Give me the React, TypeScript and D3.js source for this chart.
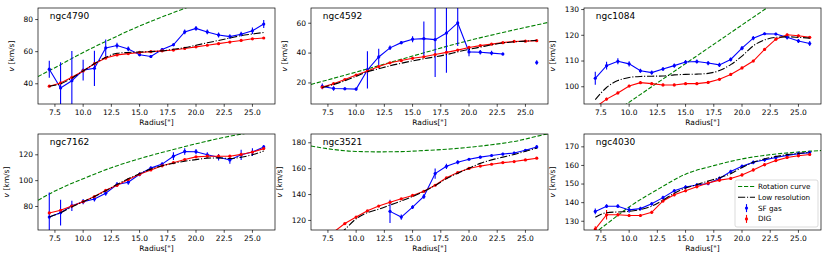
import React from 'react';
import * as d3 from 'd3';

const radius = [7, 8, 9, 10, 11, 12, 13, 14, 15, 16, 17, 18, 19, 20, 21, 22, 23, 24, 25, 26];
const xTicks = [7.5, 10, 12.5, 15, 17.5, 20, 22.5, 25];
const galaxyNames = ['ngc4790', 'ngc4592', 'ngc1084', 'ngc7162', 'ngc3521', 'ngc4030'];

// ngc4790
const sf4790 = [49.1, 37.4, 41.9, 48.5, 49.6, 62.3, 63.8, 61.7, 58.1, 57, 61.3, 64.3, 72.3, 74.5, 72.3, 70.4, 69.4, 70.9, 73, 77.2];
const sfErr4790 = [5.3, 16, 18.5, 6.5, 11, 5.3, 1.8, 1.5, 1, 1, 1, 1, 1.5, 1.5, 1.5, 1.5, 1.5, 1.5, 2, 2.5];
const dig4790 = [38.5, 40.5, 44, 48, 52.5, 56, 58, 58.8, 59.5, 60, 60.5, 61, 62, 63, 64, 65, 66, 67, 68, 68.5];
const low4790 = [38.5, 40, 43.5, 48, 52.5, 56.5, 59, 59.5, 59.8, 60, 60.5, 61.5, 62.5, 64, 65.5, 67, 68.5, 70, 71, 72];
const rotX4790 = [6, 7.5, 10, 12.5, 15, 17.5, 20, 22.5, 25, 27];
const rotV4790 = [44.5, 50, 59.5, 68, 76, 83, 89.5, 95, 100, 104];
const yTicks4790 = [40, 60, 80];

// ngc4592
const sf4592 = [17.7, 16.3, 16.1, 15.9, 28.7, 37.4, 43.5, 47, 49.3, 49.7, 49, 53.4, 60.2, 40.8, 40.6, 40, 39.4, NaN, NaN, 33.7];
const sfErr4592 = [2, 1.5, 1, 1, 12.5, 5.5, 1.5, 1, 2, 11.5, 25, 26.5, 15.5, 3, 1.5, 1.5, 1, 0, 0, 1.5];
const dig4592 = [17.2, 19.5, 22.3, 25.3, 28, 31, 33.5, 35, 36.5, 37.5, 39, 40.5, 42, 43.8, 45, 46, 47, 47.8, 48, 48.3];
const low4592 = [17, 19, 21.5, 24.5, 27.5, 29.5, 31.5, 33.2, 34.8, 36.2, 37.5, 39, 40.8, 42.5, 44, 45.5, 46.8, 47.5, 48, 48.5];
const rotX4592 = [6, 11, 15, 19, 23, 27];
const rotV4592 = [19, 29.4, 38, 46.5, 53.8, 60.5];
const yTicks4592 = [20, 40, 60];

// ngc1084
const sf1084 = [103.3, 108.2, 109.9, 108.9, 106.2, 105.5, 106.9, 108.2, 109.6, 109.8, 109.2, 108.5, 110.6, 115, 118.9, 120.6, 120.5, 119.2, 117.8, 116.8];
const sfErr1084 = [2.5, 1.5, 1.2, 1, 0.8, 0.8, 0.8, 0.8, 0.8, 0.8, 0.8, 0.8, 0.8, 0.8, 0.8, 0.5, 0.5, 0.8, 0.8, 1];
const dig1084 = [92, 95.2, 97.6, 100.3, 101.6, 101.2, 100.7, 100.7, 101.2, 101.2, 101.7, 102.9, 104.8, 107.3, 110, 114.5, 118.5, 120.2, 119.8, 119.2];
const low1084 = [95, 99.7, 102.4, 103.6, 104, 104.1, 104.2, 104.6, 104.8, 104.9, 105.2, 106.3, 108.6, 111.9, 115.9, 118.2, 119.2, 119.4, 119.2, 118.9];
const rotX1084 = [6, 12, 18, 24, 27];
const rotV1084 = [82, 100, 118, 136, 145];
const yTicks1084 = [100, 110, 120, 130];

// ngc7162
const sf7162 = [71.8, 75.2, 80.5, 83.7, 85.8, 90.3, 97, 98.8, 104.9, 109.7, 112.8, 118.9, 122.6, 122.4, 120, 118.1, 116, 120, 122.1, 126.1];
const sfErr7162 = [19, 10, 4, 2, 2, 2, 2, 2, 1.5, 1.5, 1.5, 3, 2.5, 2, 2, 2.5, 3, 4, 3, 1.5];
const dig7162 = [75, 77.1, 80.3, 83.7, 87.7, 92.5, 96.4, 100.9, 104.9, 108.3, 111.5, 113.9, 116.3, 118.4, 118.9, 118.9, 118.9, 120.3, 122.1, 124.8];
const low7162 = [71.8, 75.2, 79.7, 83.7, 87.7, 92.2, 97, 101.5, 105.4, 108.9, 111.5, 113.4, 115, 116.3, 117.4, 117.6, 117.1, 118.1, 120, 122.9];
const rotX7162 = [6, 7.5, 10, 12.5, 15, 17.5, 20, 22.5, 25, 27];
const rotV7162 = [84.8, 92, 101.5, 110, 117, 123, 128.5, 133.5, 137.5, 140.5];
const yTicks7162 = [80, 100, 120];

// ngc3521
const sf3521 = [NaN, NaN, NaN, NaN, NaN, NaN, 127, 122.6, 130.3, 138.5, 156.2, 161.8, 165, 167.3, 168.9, 170.2, 171.3, 172.1, 174.2, 176.8];
const sfErr3521 = [0, 0, 0, 0, 0, 0, 9, 2, 1.5, 2, 4, 2, 1.5, 1, 1, 1, 1, 1, 1, 1.5];
const dig3521 = [104, 111, 117.6, 122.6, 127.4, 131.1, 134, 136.7, 139.3, 142.5, 147.2, 153, 157, 160.2, 162, 163.4, 164.7, 165.5, 166.8, 168.1];
const low3521 = [98, 105, 113, 121.3, 126, 128.7, 131.9, 135, 138.5, 142.5, 147, 152.3, 156.5, 160.4, 164.1, 166.8, 168.9, 171, 173.4, 176];
const rotX3521 = [6, 8, 10, 12, 14, 16, 18, 20, 22, 24, 26, 27];
const rotV3521 = [177.5, 174.8, 173.3, 173, 173.2, 174, 175, 176.5, 178.5, 181, 185, 187];
const yTicks3521 = [120, 140, 160, 180];

// ngc4030
const sf4030 = [135.3, 138.1, 138.1, 136.1, 136.8, 139.4, 142.7, 146.4, 148.4, 149.5, 150.3, 153, 156.7, 159.5, 161.7, 163, 164.3, 165.4, 166.3, 166.9];
const sfErr4030 = [1.5, 1, 1, 1.5, 1, 1, 1, 1, 1, 1, 1, 1, 1, 1, 1, 1, 1, 1, 1, 1];
const dig4030 = [125.8, 133.5, 133.5, 133.1, 133.1, 134.8, 140.9, 144.2, 146.4, 148.6, 150.6, 152.1, 153, 154.9, 157.6, 160.4, 162.6, 164.3, 165.2, 165.9];
const low4030 = [132.2, 134.6, 135, 135.3, 136.3, 138.1, 141.4, 145.1, 147.9, 149.7, 151.6, 153.4, 155.6, 158.9, 161.7, 163.5, 164.8, 165.8, 166.5, 167];
const rotX4030 = [6, 7, 8, 10, 12.5, 15, 17.5, 20, 22.5, 25, 27];
const rotV4030 = [120, 124, 128.5, 137.7, 147, 155.3, 159.9, 163.5, 165.8, 167.2, 168];
const yTicks4030 = [130, 140, 150, 160, 170];

const sfAll = [sf4790, sf4592, sf1084, sf7162, sf3521, sf4030];
const sfErrAll = [sfErr4790, sfErr4592, sfErr1084, sfErr7162, sfErr3521, sfErr4030];
const digAll = [dig4790, dig4592, dig1084, dig7162, dig3521, dig4030];
const lowAll = [low4790, low4592, low1084, low7162, low3521, low4030];
const rotXAll = [rotX4790, rotX4592, rotX1084, rotX7162, rotX3521, rotX4030];
const rotVAll = [rotV4790, rotV4592, rotV1084, rotV7162, rotV3521, rotV4030];
const yTicksAll = [yTicks4790, yTicks4592, yTicks1084, yTicks7162, yTicks3521, yTicks4030];
const digErrDefault = 0.5;
const digErr4030 = [1.5, 2.5, 1, 0.8, 0.8, 0.8, 0.8, 0.8, 0.8, 0.8, 0.8, 0.8, 0.8, 0.8, 0.8, 0.8, 0.8, 0.8, 0.8, 0.8];

const legendLabels = ['Rotation curve', 'Low resolution', 'SF gas', 'DIG'];

const W = 830, H = 260;
const colLeft = [38, 311, 584];
const rowTop = [8, 134];
const PW = 237, PH = 96;
const FONT = 'DejaVu Sans, sans-serif';
const TICKFS = 7.5;

const BLUE = '#0000ff', RED = '#ff0000', GREEN = '#008000', BLACK = '#000000';

function Panel({ idx }: { idx: number }) {
  const col = idx % 3, row = Math.floor(idx / 3);
  const left = colLeft[col], top = rowTop[row];
  const sf = sfAll[idx], sfErr = sfErrAll[idx], dig = digAll[idx], low = lowAll[idx];
  const digErr = idx === 5 ? digErr4030 : radius.map(() => digErrDefault);
  const validSf = sf.filter((v) => !isNaN(v));
  const y0 = (d3.min(validSf) as number) - 10;
  const y1 = (d3.max(validSf) as number) + 10;
  const x = d3.scaleLinear().domain([6, 27]).range([0, PW]);
  const y = d3.scaleLinear().domain([y0, y1]).range([PH, 0]);
  const clipId = `clip${idx}`;

  const lin = d3.line<[number, number]>().defined((d) => !isNaN(d[1])).x((d) => x(d[0])).y((d) => y(d[1]));
  const smooth = d3.line<[number, number]>().x((d) => x(d[0])).y((d) => y(d[1])).curve(d3.curveMonotoneX);

  const rotPts = rotXAll[idx].map((r, i) => [r, rotVAll[idx][i]] as [number, number]);
  const lowPts = radius.map((r, i) => [r, low[i]] as [number, number]);
  const sfPts = radius.map((r, i) => [r, sf[i]] as [number, number]);
  const digPts = radius.map((r, i) => [r, dig[i]] as [number, number]);

  const yTicks = yTicksAll[idx];
  const maxLabW = d3.max(yTicks.map((t) => String(t).length)) as number;
  const yLabelX = -(3 + 2.5 + maxLabW * 4.8 + 9);

  return (
    <g transform={`translate(${left},${top})`}>
      <defs>
        <clipPath id={clipId}>
          <rect x={0} y={0} width={PW} height={PH} />
        </clipPath>
      </defs>
      <g clipPath={`url(#${clipId})`}>
        <path d={smooth(rotPts) || ''} fill="none" stroke={GREEN} strokeWidth={1.1} strokeDasharray="4.2,1.8" />
        {radius.map((r, i) => isNaN(sf[i]) ? null : (
          <line key={`sfe${i}`} x1={x(r)} x2={x(r)} y1={y(sf[i] - sfErr[i])} y2={y(sf[i] + sfErr[i])} stroke={BLUE} strokeWidth={1.1} />
        ))}
        <path d={lin(sfPts) || ''} fill="none" stroke={BLUE} strokeWidth={1.1} />
        {radius.map((r, i) => isNaN(sf[i]) ? null : (
          <circle key={`sfm${i}`} cx={x(r)} cy={y(sf[i])} r={1.6} fill={BLUE} />
        ))}
        {radius.map((r, i) => (
          <line key={`dge${i}`} x1={x(r)} x2={x(r)} y1={y(dig[i] - digErr[i])} y2={y(dig[i] + digErr[i])} stroke={RED} strokeWidth={1.1} />
        ))}
        <path d={lin(digPts) || ''} fill="none" stroke={RED} strokeWidth={1.1} />
        {radius.map((r, i) => (
          <circle key={`dgm${i}`} cx={x(r)} cy={y(dig[i])} r={1.6} fill={RED} />
        ))}
        <path d={smooth(lowPts) || ''} fill="none" stroke={BLACK} strokeWidth={1.1} strokeDasharray="7.2,1.8,1.1,1.8" />
      </g>
      <rect x={0} y={0} width={PW} height={PH} fill="none" stroke="#000" strokeWidth={0.7} />
      {xTicks.map((t) => (
        <g key={`xt${t}`} transform={`translate(${x(t)},${PH})`}>
          <line y1={0} y2={2.8} stroke="#000" strokeWidth={0.7} />
          <text y={11} textAnchor="middle" fontSize={TICKFS} fontFamily={FONT}>{t.toFixed(1)}</text>
        </g>
      ))}
      {yTicks.map((t) => (
        <g key={`yt${t}`} transform={`translate(0,${y(t)})`}>
          <line x1={0} x2={-2.8} stroke="#000" strokeWidth={0.7} />
          <text x={-5} dy="0.32em" textAnchor="end" fontSize={TICKFS} fontFamily={FONT}>{t}</text>
        </g>
      ))}
      <text x={PW / 2} y={PH + 21} textAnchor="middle" fontSize={TICKFS} fontFamily={FONT}>Radius["]</text>
      <text transform={`translate(${yLabelX},${PH / 2}) rotate(-90)`} textAnchor="middle" fontSize={TICKFS} fontFamily={FONT}>
        <tspan fontStyle="italic">v</tspan> [km/s]
      </text>
      <text x={PW * 0.05} y={11} fontSize={9} fontFamily={FONT}>{galaxyNames[idx]}</text>
      {idx === 5 && <Legend />}
    </g>
  );
}

function Legend() {
  const lw = 83, lh = 47;
  const lx = PW - lw - 3, ly = PH - lh - 3;
  const rowH = 10.8;
  return (
    <g transform={`translate(${lx},${ly})`}>
      <rect x={0} y={0} width={lw} height={lh} rx={2} fill="#fff" fillOpacity={0.8} stroke="#ccc" strokeWidth={0.7} />
      {legendLabels.map((lab, i) => {
        const cy = 6.5 + i * rowH;
        return (
          <g key={lab}>
            {i === 0 && <line x1={3} x2={20} y1={cy} y2={cy} stroke={GREEN} strokeWidth={1.1} strokeDasharray="4.2,1.8" />}
            {i === 1 && <line x1={3} x2={20} y1={cy} y2={cy} stroke={BLACK} strokeWidth={1.1} strokeDasharray="7.2,1.8,1.1,1.8" />}
            {i >= 2 && (
              <g>
                <line x1={11.5} x2={11.5} y1={cy - 4} y2={cy + 4} stroke={i === 2 ? BLUE : RED} strokeWidth={1.1} />
                <circle cx={11.5} cy={cy} r={1.6} fill={i === 2 ? BLUE : RED} />
              </g>
            )}
            <text x={23} y={cy} dy="0.35em" fontSize={7.2} fontFamily={FONT}>{lab}</text>
          </g>
        );
      })}
    </g>
  );
}

export default function App() {
  return (
    <svg width={W} height={H} style={{ display: 'block', position: 'absolute', left: 0, top: 0, background: '#fff' }}>
      {galaxyNames.map((_, i) => <Panel key={i} idx={i} />)}
    </svg>
  );
}
